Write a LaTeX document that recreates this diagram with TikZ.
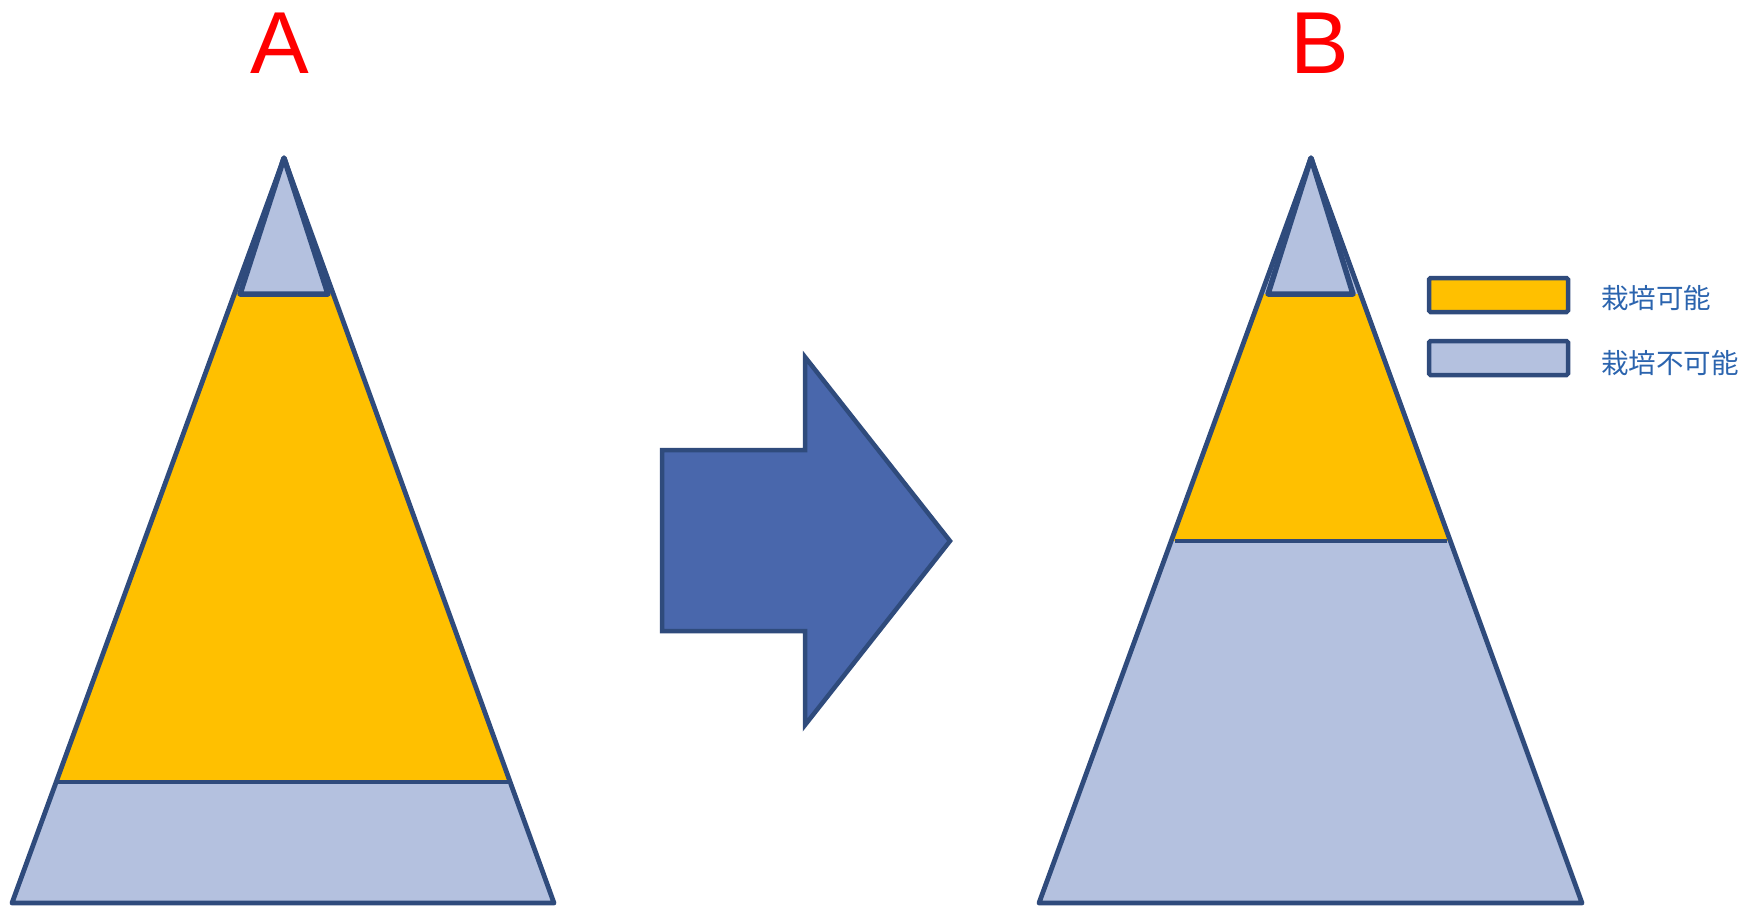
\documentclass[tikz,border=0pt]{standalone}
\usepackage{fontspec}
\setmainfont{Liberation Sans}
\newfontfamily\cjk{Noto Sans CJK JP}
\definecolor{navy}{HTML}{2F4B7C}
\definecolor{lav}{HTML}{B4C1DF}
\definecolor{gold}{HTML}{FFC000}
\definecolor{arrowblue}{HTML}{4967AC}
\definecolor{legtext}{HTML}{2B64AE}
\begin{document}
\begin{tikzpicture}[x=1pt,y=-1pt,
  outline/.style={draw=navy,line width=4.8pt,line join=round},
  tipline/.style={draw=navy,line width=5.5pt,line join=round},
  biglabel/.style={text=red,font=\fontsize{88}{88}\selectfont,anchor=base,inner sep=0pt},
  legendbox/.style={draw=navy,line width=4.5pt,rounded corners=1.5pt},
  legendtext/.style={text=legtext,font=\cjk\fontsize{27.5}{30}\selectfont,anchor=west,inner sep=0pt}]
\useasboundingbox (0,0) rectangle (1748,906);

% ---------- Triangle A ----------
\coordinate (Aapex) at (284,158);
\coordinate (Abl) at (12,903);
\coordinate (Abr) at (554,903);
\fill[lav] (Aapex) -- (Abl) -- (Abr) -- cycle;
\fill[gold] (234.5,294) -- (333.5,294) -- (511,782) -- (57,782) -- cycle;
\draw[outline] (Aapex) -- (Abl) -- (Abr) -- cycle;
\draw[outline] (57,782) -- (511,782);
\draw[tipline,fill=lav] (Aapex) -- (240,294) -- (328,294) -- cycle;
\node[biglabel] (labA) at (279.5,73) {A};

% ---------- Arrow ----------
\draw[draw=navy,fill=arrowblue,line width=4.5pt,line join=miter]
  (662,450) -- (805,450) -- (805,357) -- (950,541) -- (805,725) -- (805,631) -- (662,631) -- cycle;

% ---------- Triangle B ----------
\coordinate (Bapex) at (1311,158);
\coordinate (Bbl) at (1039,903);
\coordinate (Bbr) at (1582,903);
\fill[lav] (Bapex) -- (Bbl) -- (Bbr) -- cycle;
\fill[gold] (1261.4,294) -- (1360.6,294) -- (1450.6,541) -- (1171.4,541) -- cycle;
\draw[outline] (Bapex) -- (Bbl) -- (Bbr) -- cycle;
\draw[outline] (1175,541) -- (1447,541);
\draw[tipline,fill=lav] (Bapex) -- (1268,294) -- (1353,294) -- cycle;
\node[biglabel] (labB) at (1320,73) {B};

% ---------- Legend ----------
\draw[legendbox,fill=gold] (1429,278) rectangle (1568,312);
\draw[legendbox,fill=lav] (1429,341) rectangle (1568,375);
\node[legendtext] (leg1) at (1601,298) {栽培可能};
\node[legendtext] (leg2) at (1601,363) {栽培不可能};
\end{tikzpicture}
\end{document}
